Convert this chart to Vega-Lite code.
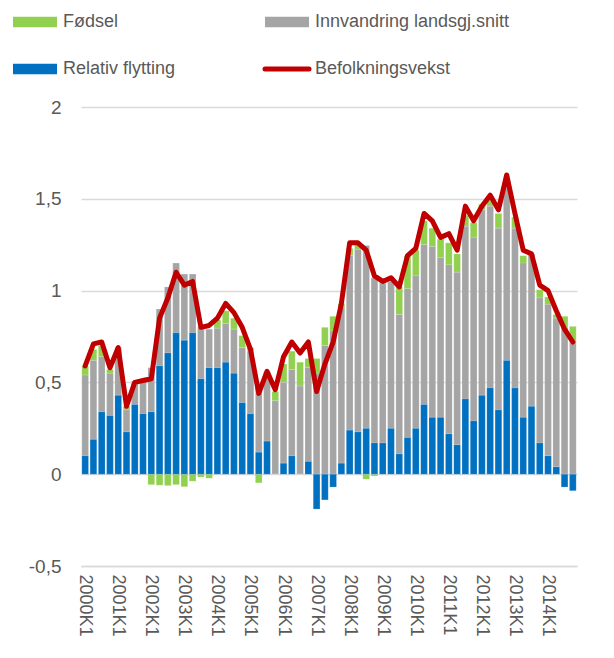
{
  "$schema": "https://vega.github.io/schema/vega-lite/v6.json",
  "autosize": "none",
  "width": 496,
  "height": 459,
  "padding": {"left": 81, "top": 107, "right": 37, "bottom": 92},
  "background": "white",
  "config": {
    "font": "Liberation Sans",
    "view": {"stroke": null}
  },
  "data": {
    "values": [
      {"kvartal": "2000K1", "relativ": 0.10, "innvandring": 0.44, "fodsel": 0.05, "vekst": 0.59},
      {"kvartal": "2000K2", "relativ": 0.19, "innvandring": 0.43, "fodsel": 0.06, "vekst": 0.71},
      {"kvartal": "2000K3", "relativ": 0.34, "innvandring": 0.30, "fodsel": 0.06, "vekst": 0.72},
      {"kvartal": "2000K4", "relativ": 0.32, "innvandring": 0.23, "fodsel": 0.02, "vekst": 0.58},
      {"kvartal": "2001K1", "relativ": 0.43, "innvandring": 0.25, "fodsel": 0.01, "vekst": 0.69},
      {"kvartal": "2001K2", "relativ": 0.23, "innvandring": 0.12, "fodsel": 0.02, "vekst": 0.37},
      {"kvartal": "2001K3", "relativ": 0.38, "innvandring": 0.12, "fodsel": 0.005, "vekst": 0.50},
      {"kvartal": "2001K4", "relativ": 0.33, "innvandring": 0.18, "fodsel": 0.005, "vekst": 0.51},
      {"kvartal": "2002K1", "relativ": 0.34, "innvandring": 0.24, "fodsel": -0.057, "vekst": 0.52},
      {"kvartal": "2002K2", "relativ": 0.59, "innvandring": 0.31, "fodsel": -0.06, "vekst": 0.85},
      {"kvartal": "2002K3", "relativ": 0.66, "innvandring": 0.36, "fodsel": -0.062, "vekst": 0.96},
      {"kvartal": "2002K4", "relativ": 0.77, "innvandring": 0.38, "fodsel": -0.057, "vekst": 1.10},
      {"kvartal": "2003K1", "relativ": 0.73, "innvandring": 0.36, "fodsel": -0.068, "vekst": 1.03},
      {"kvartal": "2003K2", "relativ": 0.77, "innvandring": 0.32, "fodsel": -0.038, "vekst": 1.05},
      {"kvartal": "2003K3", "relativ": 0.52, "innvandring": 0.28, "fodsel": -0.015, "vekst": 0.80},
      {"kvartal": "2003K4", "relativ": 0.58, "innvandring": 0.21, "fodsel": -0.022, "vekst": 0.81},
      {"kvartal": "2004K1", "relativ": 0.58, "innvandring": 0.215, "fodsel": 0.046, "vekst": 0.85},
      {"kvartal": "2004K2", "relativ": 0.61, "innvandring": 0.21, "fodsel": 0.07, "vekst": 0.93},
      {"kvartal": "2004K3", "relativ": 0.55, "innvandring": 0.24, "fodsel": 0.06, "vekst": 0.88},
      {"kvartal": "2004K4", "relativ": 0.39, "innvandring": 0.30, "fodsel": 0.065, "vekst": 0.80},
      {"kvartal": "2005K1", "relativ": 0.33, "innvandring": 0.34, "fodsel": 0.02, "vekst": 0.68},
      {"kvartal": "2005K2", "relativ": 0.12, "innvandring": 0.36, "fodsel": -0.047, "vekst": 0.44},
      {"kvartal": "2005K3", "relativ": 0.18, "innvandring": 0.37, "fodsel": 0.01, "vekst": 0.56},
      {"kvartal": "2005K4", "relativ": 0.0, "innvandring": 0.40, "fodsel": 0.05, "vekst": 0.46},
      {"kvartal": "2006K1", "relativ": 0.06, "innvandring": 0.44, "fodsel": 0.10, "vekst": 0.64},
      {"kvartal": "2006K2", "relativ": 0.10, "innvandring": 0.47, "fodsel": 0.10, "vekst": 0.72},
      {"kvartal": "2006K3", "relativ": 0.0, "innvandring": 0.48, "fodsel": 0.13, "vekst": 0.66},
      {"kvartal": "2006K4", "relativ": 0.07, "innvandring": 0.51, "fodsel": 0.05, "vekst": 0.72},
      {"kvartal": "2007K1", "relativ": -0.19, "innvandring": 0.55, "fodsel": 0.08, "vekst": 0.45},
      {"kvartal": "2007K2", "relativ": -0.14, "innvandring": 0.70, "fodsel": 0.10, "vekst": 0.60},
      {"kvartal": "2007K3", "relativ": -0.07, "innvandring": 0.78, "fodsel": 0.08, "vekst": 0.72},
      {"kvartal": "2007K4", "relativ": 0.06, "innvandring": 0.85, "fodsel": 0.02, "vekst": 0.93},
      {"kvartal": "2008K1", "relativ": 0.24, "innvandring": 0.95, "fodsel": 0.04, "vekst": 1.26},
      {"kvartal": "2008K2", "relativ": 0.23, "innvandring": 0.995, "fodsel": 0.03, "vekst": 1.26},
      {"kvartal": "2008K3", "relativ": 0.25, "innvandring": 0.995, "fodsel": -0.027, "vekst": 1.22},
      {"kvartal": "2008K4", "relativ": 0.17, "innvandring": 0.90, "fodsel": -0.01, "vekst": 1.08},
      {"kvartal": "2009K1", "relativ": 0.17, "innvandring": 0.87, "fodsel": 0.01, "vekst": 1.05},
      {"kvartal": "2009K2", "relativ": 0.25, "innvandring": 0.80, "fodsel": 0.02, "vekst": 1.07},
      {"kvartal": "2009K3", "relativ": 0.11, "innvandring": 0.76, "fodsel": 0.15, "vekst": 1.02},
      {"kvartal": "2009K4", "relativ": 0.20, "innvandring": 0.81, "fodsel": 0.18, "vekst": 1.19},
      {"kvartal": "2010K1", "relativ": 0.25, "innvandring": 0.83, "fodsel": 0.14, "vekst": 1.23},
      {"kvartal": "2010K2", "relativ": 0.38, "innvandring": 0.87, "fodsel": 0.13, "vekst": 1.42},
      {"kvartal": "2010K3", "relativ": 0.31, "innvandring": 0.93, "fodsel": 0.10, "vekst": 1.38},
      {"kvartal": "2010K4", "relativ": 0.31, "innvandring": 0.87, "fodsel": 0.10, "vekst": 1.29},
      {"kvartal": "2011K1", "relativ": 0.22, "innvandring": 0.92, "fodsel": 0.12, "vekst": 1.31},
      {"kvartal": "2011K2", "relativ": 0.16, "innvandring": 0.94, "fodsel": 0.10, "vekst": 1.22},
      {"kvartal": "2011K3", "relativ": 0.41, "innvandring": 0.94, "fodsel": 0.06, "vekst": 1.46},
      {"kvartal": "2011K4", "relativ": 0.29, "innvandring": 1.00, "fodsel": 0.08, "vekst": 1.38},
      {"kvartal": "2012K1", "relativ": 0.43, "innvandring": 1.01, "fodsel": 0.03, "vekst": 1.46},
      {"kvartal": "2012K2", "relativ": 0.47, "innvandring": 0.99, "fodsel": 0.04, "vekst": 1.52},
      {"kvartal": "2012K3", "relativ": 0.35, "innvandring": 0.99, "fodsel": 0.08, "vekst": 1.44},
      {"kvartal": "2012K4", "relativ": 0.62, "innvandring": 0.94, "fodsel": 0.04, "vekst": 1.63},
      {"kvartal": "2013K1", "relativ": 0.47, "innvandring": 0.87, "fodsel": 0.06, "vekst": 1.42},
      {"kvartal": "2013K2", "relativ": 0.31, "innvandring": 0.84, "fodsel": 0.04, "vekst": 1.22},
      {"kvartal": "2013K3", "relativ": 0.37, "innvandring": 0.83, "fodsel": 0.0, "vekst": 1.20},
      {"kvartal": "2013K4", "relativ": 0.17, "innvandring": 0.79, "fodsel": 0.045, "vekst": 1.03},
      {"kvartal": "2014K1", "relativ": 0.10, "innvandring": 0.825, "fodsel": 0.04, "vekst": 1.00},
      {"kvartal": "2014K2", "relativ": 0.04, "innvandring": 0.81, "fodsel": 0.02, "vekst": 0.89},
      {"kvartal": "2014K3", "relativ": -0.07, "innvandring": 0.80, "fodsel": 0.06, "vekst": 0.79},
      {"kvartal": "2014K4", "relativ": -0.09, "innvandring": 0.715, "fodsel": 0.09, "vekst": 0.72}
    ]
  },
  "transform": [
    {"fold": ["fodsel", "innvandring", "relativ", "vekst"], "as": ["serie", "verdi"]}
  ],
  "encoding": {
    "x": {
      "field": "kvartal",
      "type": "nominal",
      "sort": null,
      "title": null,
      "scale": {"paddingInner": 0.19, "paddingOuter": 0.1},
      "axis": {
        "values": ["2000K1","2001K1","2002K1","2003K1","2004K1","2005K1","2006K1","2007K1","2008K1","2009K1","2010K1","2011K1","2012K1","2013K1","2014K1"],
        "labelAngle": 90,
        "labelAlign": "left",
        "labelBaseline": "middle",
        "labelFontSize": 18,
        "labelColor": "#595959",
        "labelPadding": 8,
        "ticks": false,
        "domain": true,
        "domainColor": "#D9D9D9",
        "domainWidth": 1.5,
        "grid": false
      }
    },
    "y": {
      "field": "verdi",
      "type": "quantitative",
      "title": null,
      "scale": {"domain": [-0.5, 2], "nice": false, "zero": false},
      "axis": {
        "values": [-0.5, 0, 0.5, 1, 1.5, 2],
        "labelExpr": "replace(toString(datum.value), '.', ',')",
        "labelFontSize": 19,
        "labelColor": "#595959",
        "labelPadding": 20,
        "ticks": false,
        "domain": false,
        "grid": true,
        "gridColor": "#D9D9D9",
        "gridWidth": 1.5
      }
    },
    "color": {
      "field": "serie",
      "type": "nominal",
      "title": null,
      "scale": {
        "domain": ["fodsel", "relativ", "innvandring", "vekst"],
        "range": ["#92D050", "#0070C0", "#A5A5A5", "#C00000"]
      },
      "legend": {
        "orient": "none",
        "legendX": -55,
        "legendY": -94,
        "columns": 2,
        "columnPadding": 79,
        "rowPadding": 28,
        "labelFontSize": 18,
        "labelColor": "#595959",
        "labelOffset": 19,
        "labelLimit": 320,
        "symbolSize": 1936,
        "symbolType": "M-1,-0.24H1V0.24H-1Z",
        "symbolOpacity": 1,
        "labelExpr": "datum.value === 'fodsel' ? 'Fødsel' : datum.value === 'innvandring' ? 'Innvandring landsgj.snitt' : datum.value === 'relativ' ? 'Relativ flytting' : 'Befolkningsvekst'",
        "encode": {
          "symbols": {
            "update": {
              "shape": {"signal": "datum.value === 'vekst' ? 'M-1,0H1' : 'M-1,-0.24H1V0.24H-1Z'"},
              "fill": {"signal": "datum.value === 'vekst' ? 'transparent' : scale('color', datum.value)"},
              "stroke": {"signal": "datum.value === 'vekst' ? '#C00000' : 'transparent'"},
              "strokeWidth": {"signal": "datum.value === 'vekst' ? 5 : 0"},
              "strokeCap": {"value": "round"}
            }
          }
        }
      }
    }
  },
  "layer": [
    {
      "transform": [{"filter": "datum.serie !== 'vekst'"}],
      "mark": {"type": "bar", "stroke": "white", "strokeWidth": 0.3, "strokeOpacity": 0.5},
      "encoding": {
        "order": {"field": "serie", "sort": "descending"}
      }
    },
    {
      "transform": [{"filter": "datum.serie === 'vekst'"}],
      "mark": {"type": "line", "strokeWidth": 5, "strokeJoin": "round", "strokeCap": "round"},
      "encoding": {}
    }
  ]
}
